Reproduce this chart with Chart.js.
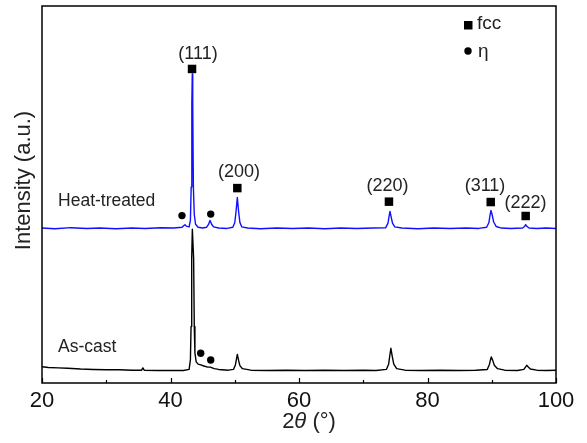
<!DOCTYPE html>
<html lang="en">
<head>
  <meta charset="UTF-8">
  <title>XRD patterns</title>
  <script src="https://cdn.jsdelivr.net/npm/chart.js@4.4.3/dist/chart.umd.min.js"></script>
  <style>
    html, body { margin: 0; padding: 0; background: #fff; }
    #wrap { width: 587px; height: 443px; }
  </style>
</head>
<body>
  <div id="wrap"><canvas id="xrdChart" width="587" height="443"></canvas></div>

  <script>
    // 2θ (deg) and intensity (a.u., stacked)
    const heatX = [20, 22, 24.5, 27, 29, 31.5, 34, 36, 38.5, 40.5,
      41.8, 42.05, 42.25, 42.45, 42.9, 43.1, 43.22, 43.32, 43.39, 43.46,
      43.56, 43.7, 43.9, 44.3, 45, 45.6, 45.9, 46.15, 46.4, 46.7,
      47.5, 48.8, 49.7, 50.0, 50.2, 50.4, 50.6, 50.8, 51.1, 52,
      54, 56.5, 59, 61.5, 64, 66.5, 69, 71.5, 73.5, 73.85,
      74.0, 74.16, 74.35, 74.55, 74.9, 76, 78.5, 81, 83.5, 86,
      88, 89.2, 89.55, 89.72, 89.88, 90.08, 90.3, 90.7, 91.5, 93,
      94.8, 95.1, 95.28, 95.5, 95.8, 97, 98.5, 100];
    const heatY = [411, 409, 412, 410, 411, 409, 411, 410, 412, 411,
      413, 417, 420, 416, 414, 432, 520, 740, 820, 740,
      520, 447, 421, 413, 411, 413, 420, 431, 421, 414,
      411, 410, 413, 425, 455, 492, 455, 426, 414, 411,
      409, 411, 410, 411, 409, 411, 410, 411, 412, 424,
      440, 455, 440, 424, 414, 411, 409, 411, 410, 411,
      410, 413, 425, 444, 458, 445, 427, 415, 411, 410,
      411, 415, 420, 415, 411, 410, 411, 410];

    const castX = [20, 21, 22.5, 24, 26, 28, 30, 32, 34, 35.5,
      35.7, 35.9, 38, 40, 42, 42.9, 43.1, 43.2, 43.3, 43.4,
      43.5, 43.6, 43.7, 43.8, 44.0, 44.3, 44.7, 45.2, 45.8, 46.2,
      46.8, 47.5, 49, 49.8, 50.1, 50.25, 50.4, 50.6, 50.8, 51.2,
      52.5, 55, 58, 61, 64, 67, 70, 72, 73.6, 73.95,
      74.15, 74.3, 74.5, 74.75, 75.2, 76.5, 79, 82, 85, 87.5,
      89.3, 89.65, 89.8, 89.93, 90.15, 90.4, 90.9, 92, 94, 95.0,
      95.25, 95.44, 95.65, 96.0, 97, 98.5, 100];
    const castY = [43, 41, 40, 39, 37, 36, 35, 35, 34, 34,
      40, 34, 33, 33, 33, 36, 62, 150, 330, 408,
      408, 330, 150, 80, 56, 50, 48, 45, 42, 42,
      38, 36, 34, 36, 48, 62, 76, 60, 46, 38,
      34, 33, 34, 33, 34, 33, 34, 33, 36, 50,
      75, 92, 72, 50, 38, 34, 33, 34, 33, 34,
      36, 50, 62, 69, 60, 47, 38, 34, 33, 36,
      42, 47, 43, 37, 34, 33, 34];

    // phase markers
    const fccX = [43.35, 50.4, 74.0, 89.84, 95.28];
    const fccY = [833, 517, 481, 480, 443];
    const etaX = [41.79, 46.26, 44.70, 46.26];
    const etaY = [444, 448, 79, 61];

    // reflection labels
    const hklText = ['(111)', '(200)', '(220)', '(311)', '(222)'];
    const hklX = [44.28, 50.66, 73.77, 88.95, 95.25];
    const hklY = [872, 559, 523, 523, 477];

    const sampleText = ['Heat-treated', 'As-cast'];
    const sampleX = [22.5, 22.5];
    const sampleY = [483, 94];

    const xTicks = [20, 40, 60, 80, 100];

    const FONT = "'Liberation Sans', Arial, sans-serif";
    const toPts = (xs, ys) => xs.map((x, i) => ({ x: x, y: ys[i] }));

    const decor = {
      id: 'decor',
      afterDatasetsDraw(chart) {
        const { ctx, chartArea: a, scales: { x, y } } = chart;
        ctx.save();
        // frame
        ctx.strokeStyle = '#000';
        ctx.lineWidth = 1.5;
        ctx.strokeRect(a.left, a.top, a.right - a.left, a.bottom - a.top);
        // inward ticks
        ctx.lineWidth = 1.2;
        for (let v = 20; v <= 100; v += 10) {
          const px = Math.round(x.getPixelForValue(v)) + 0.5;
          const len = v % 20 === 0 ? 5 : 3;
          ctx.beginPath();
          ctx.moveTo(px, a.bottom);
          ctx.lineTo(px, a.bottom - len);
          ctx.stroke();
        }
        ctx.fillStyle = '#222';
        ctx.textBaseline = 'middle';
        // hkl labels
        ctx.textAlign = 'center';
        ctx.font = '18px ' + FONT;
        hklText.forEach((t, i) => {
          ctx.fillText(t, x.getPixelForValue(hklX[i]), y.getPixelForValue(hklY[i]));
        });
        // sample names
        ctx.textAlign = 'left';
        ctx.font = '17.5px ' + FONT;
        sampleText.forEach((t, i) => {
          ctx.fillText(t, x.getPixelForValue(sampleX[i]), y.getPixelForValue(sampleY[i]));
        });
        // legend
        ctx.fillStyle = '#000';
        ctx.fillRect(a.right - 92, a.top + 15, 8.5, 8.5);
        ctx.beginPath();
        ctx.arc(a.right - 88, a.top + 45, 3.7, 0, Math.PI * 2);
        ctx.fill();
        ctx.fillStyle = '#222';
        ctx.font = '19px ' + FONT;
        ctx.fillText('fcc', a.right - 79, a.top + 18);
        ctx.fillText('\u03b7', a.right - 78, a.top + 46);
        // x title: 2θ (°)
        const parts = [['2', ''], ['\u03b8', 'italic '], [' (\u00b0)', '']];
        let w = 0;
        parts.forEach(p => { ctx.font = p[1] + '22px ' + FONT; w += ctx.measureText(p[0]).width; });
        let cx = (a.left + a.right) / 2 + 10 - w / 2;
        parts.forEach(p => {
          ctx.font = p[1] + '22px ' + FONT;
          ctx.fillText(p[0], cx, 422);
          cx += ctx.measureText(p[0]).width;
        });
        // y title
        ctx.translate(24, (a.top + a.bottom) / 2 - 14);
        ctx.rotate(-Math.PI / 2);
        ctx.textAlign = 'center';
        ctx.font = '22px ' + FONT;
        ctx.fillText('Intensity (a.u.)', 0, 0);
        ctx.restore();
      }
    };

    new Chart(document.getElementById('xrdChart'), {
      type: 'scatter',
      data: {
        datasets: [
          { label: 'fcc', data: toPts(fccX, fccY), pointStyle: 'rect', pointRadius: 6,
            backgroundColor: '#000', borderWidth: 0, showLine: false },
          { label: 'eta', data: toPts(etaX, etaY), pointStyle: 'circle', pointRadius: 3.7,
            backgroundColor: '#000', borderWidth: 0, showLine: false },
          { label: 'Heat-treated', data: toPts(heatX, heatY), showLine: true, pointRadius: 0,
            borderColor: '#1010ff', borderWidth: 1.4, borderJoinStyle: 'round', tension: 0 },
          { label: 'As-cast', data: toPts(castX, castY), showLine: true, pointRadius: 0,
            borderColor: '#000', borderWidth: 1.4, borderJoinStyle: 'round', tension: 0 }
        ]
      },
      options: {
        responsive: false,
        animation: false,
        layout: { padding: { left: 42, top: 6, right: 31, bottom: 0 } },
        plugins: { legend: { display: false }, tooltip: { enabled: false } },
        scales: {
          x: {
            type: 'linear', min: 20, max: 100,
            grid: { display: false, drawTicks: false },
            border: { display: false },
            afterBuildTicks: s => { s.ticks = xTicks.map(v => ({ value: v })); },
            afterFit: s => { s.height = 60; },
            ticks: { padding: 5, color: '#111', font: { family: FONT, size: 22 } }
          },
          y: { display: false, min: 0, max: 1000 }
        }
      },
      plugins: [decor]
    });
  </script>
</body>
</html>
